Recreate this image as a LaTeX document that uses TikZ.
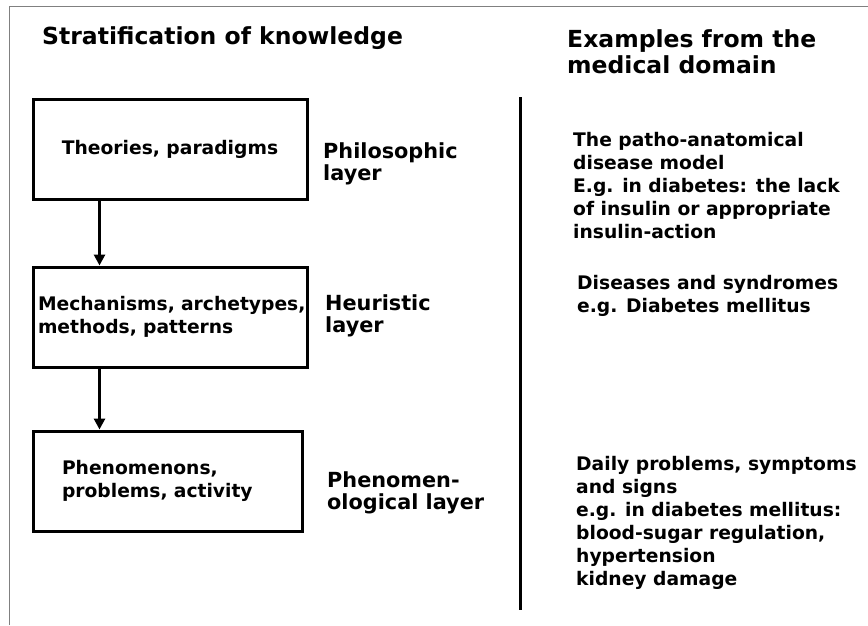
\documentclass[tikz,border=0pt]{standalone}
\usepackage{fontspec}
\setmainfont{DejaVu Sans}
\usetikzlibrary{arrows.meta}
\begin{document}
\begin{tikzpicture}[x=1pt,y=-1pt,
  body/.style={font=\fontsize{18.7}{23}\selectfont\bfseries, inner sep=0pt, align=left},
  layername/.style={font=\fontsize{20.8}{22.5}\selectfont\bfseries, inner sep=0pt, align=left},
  heading/.style={font=\fontsize{23.5}{26}\selectfont\bfseries, inner sep=0pt, align=left},
  layerbox/.style={body, draw, line width=3pt, minimum width=274pt, minimum height=100pt},
  flow/.style={line width=3pt, -{Triangle[length=11pt,width=11pt]}},
  frame/.style={draw=gray, line width=1pt},
  divider/.style={line width=3pt}]
\useasboundingbox (0,0) rectangle (868,625);

% page frame (top and left edges)
\coordinate (fbl) at (9,625);
\coordinate (ftl) at (9,6);
\coordinate (ftr) at (868,6);
\draw[frame] (fbl) -- (ftl) -- (ftr);

% column headings (anchor = baseline of the last line)
\node[heading, anchor=base west] (hleft) at (42,44) {Stratification of knowledge};
\node[heading, anchor=base west] (hright) at (567,73) {Examples from the\\medical domain};

% the three layers of knowledge
\node[layerbox, align=center] (b1) at (170,149.5) {Theories, paradigms};
\node[layerbox, text width=264pt, inner xsep=5pt] (b2) at (170,317)
  {\mbox{Mechanisms, archetypes,}\\\mbox{methods, patterns}};
\node[layerbox, minimum width=269pt, text width=211pt, inner xsep=29pt] (b3) at (167.5,481)
  {\mbox{Phenomenons,}\\\mbox{problems, activity}};

\draw[flow] ([xshift=68pt]b1.south west) -- ([xshift=68pt]b2.north west);
\draw[flow] ([xshift=68pt]b2.south west) -- ([xshift=68pt]b3.north west);

% layer names
\node[layername, anchor=base west] (l1) at (323,180.5) {Philosophic\\layer};
\node[layername, anchor=base west] (l2) at (325,332.5) {Heuristic\\layer};
\node[layername, anchor=base west] (l3) at (327,509.5) {Phenomen-\\ological layer};

% separator between the two columns
\coordinate (dtop) at (520,97);
\coordinate (dbot) at (520,610);
\draw[divider] (dtop) -- (dbot);

% medical examples
\node[body, anchor=base west] (e1) at (573,238)
  {The patho-anatomical\\disease model\\E.g. in diabetes: the lack\\of insulin or appropriate\\insulin-action};
\node[body, anchor=base west] (e2) at (577,312)
  {Diseases and syndromes\\e.g. Diabetes mellitus};
\node[body, anchor=base west] (e3) at (576,585)
  {Daily problems, symptoms\\and signs\\e.g. in diabetes mellitus:\\blood-sugar regulation,\\hypertension\\kidney damage};
\end{tikzpicture}
\end{document}
